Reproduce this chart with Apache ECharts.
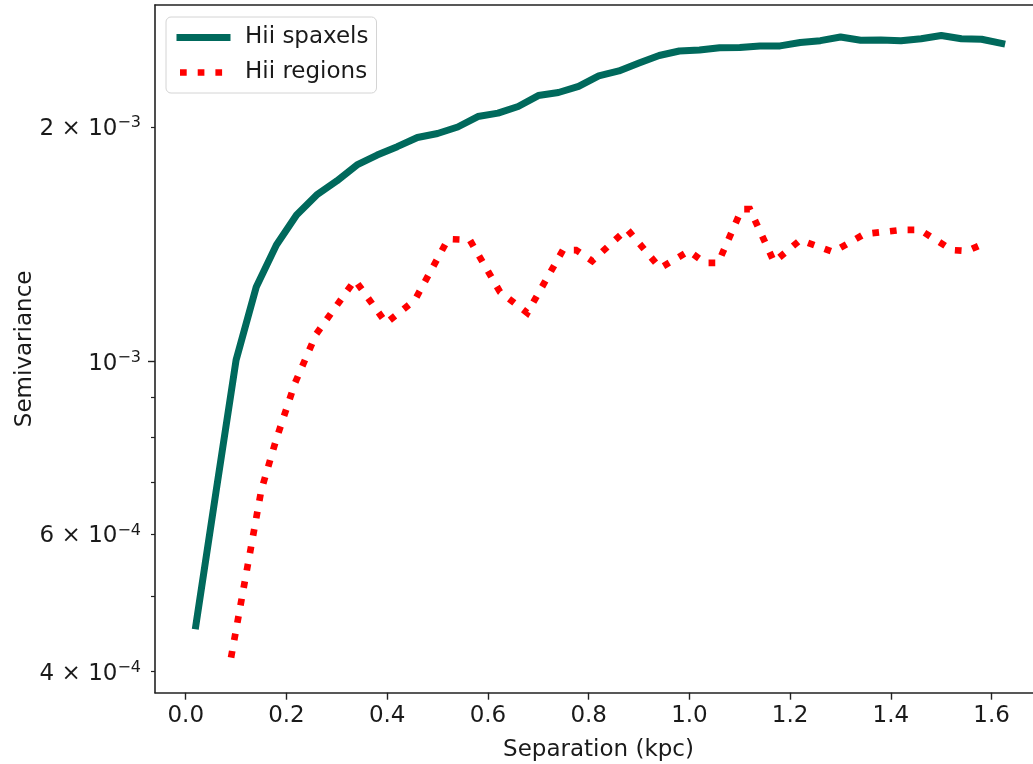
<!DOCTYPE html>
<html><head><meta charset="utf-8">
<script src="https://cdn.jsdelivr.net/npm/echarts@6/dist/echarts.min.js"></script>
<style>html,body{margin:0;padding:0;background:#fff}#c{width:1033px;height:764px}</style>
</head><body><div id="c"></div>
<script>
// ---- data ----
const spaxelSep = [0.02,0.06,0.10,0.14,0.18,0.22,0.26,0.30,0.34,0.38,0.42,0.46,0.50,0.54,0.58,0.62,0.66,0.70,0.74,0.78,0.82,0.86,0.90,0.94,0.98,1.02,1.06,1.10,1.14,1.18,1.22,1.26,1.30,1.34,1.38,1.42,1.46,1.50,1.54,1.58,1.62];
const spaxelGamma = [4.58e-4,6.8e-4,1.005e-3,1.247e-3,1.412e-3,1.543e-3,1.637e-3,1.706e-3,1.789e-3,1.842e-3,1.888e-3,1.940e-3,1.963e-3,2.001e-3,2.064e-3,2.085e-3,2.126e-3,2.196e-3,2.216e-3,2.256e-3,2.327e-3,2.362e-3,2.418e-3,2.472e-3,2.505e-3,2.512e-3,2.530e-3,2.531e-3,2.543e-3,2.543e-3,2.569e-3,2.583e-3,2.611e-3,2.586e-3,2.588e-3,2.583e-3,2.598e-3,2.623e-3,2.598e-3,2.594e-3,2.562e-3];
const regionSep = [0.09,0.15,0.18,0.217,0.259,0.336,0.398,0.455,0.521,0.564,0.624,0.678,0.749,0.775,0.807,0.876,0.942,0.999,1.031,1.057,1.104,1.120,1.168,1.220,1.285,1.347,1.420,1.458,1.521,1.551,1.587];
const regionGamma = [4.17e-4,6.84e-4,7.96e-4,9.39e-4,1.085e-3,1.273e-3,1.121e-3,1.200e-3,1.437e-3,1.433e-3,1.229e-3,1.155e-3,1.391e-3,1.391e-3,1.347e-3,1.480e-3,1.319e-3,1.387e-3,1.339e-3,1.339e-3,1.570e-3,1.570e-3,1.343e-3,1.433e-3,1.383e-3,1.458e-3,1.476e-3,1.476e-3,1.391e-3,1.387e-3,1.420e-3];
const seriesNames = ['Hii spaxels', 'Hii regions'];
const xTicks = [0.0,0.2,0.4,0.6,0.8,1.0,1.2,1.4,1.6];
const yLabelTicks = [4e-4, 6e-4, 1e-3, 2e-3];
const yMajorTicks = [1e-3];
const yMinorTicks = [4e-4, 5e-4, 6e-4, 7e-4, 8e-4, 9e-4, 2e-3];
const xName = 'Separation (kpc)';
const yName = 'Semivariance';

// ---- chart ----
const FONT = 'DejaVu Sans';
const FS = 23;
const INK = '#1a1a1a';
const SPINE = '#222';
const GREEN = '#00695c', RED = '#ff0000';
const XMIN = -0.061, XMAX = 1.70, YMIN = 3.759e-4, YMAX = 2.870e-3;
const greenStyle = {color: GREEN, width: 7, type: 'solid', cap: 'square', join: 'round'};
const redStyle = {color: RED, width: 6.7, type: [6.7, 11], cap: 'butt', join: 'miter'};

function yFmt(v) {
  const e = Math.floor(Math.log10(v) + 1e-9);
  const m = Math.round(v / Math.pow(10, e));
  const sup = '{s|\u2212' + (-e) + '}';
  return (m === 1 ? '{b|10}' : '{b|' + m + ' \u00d7 10}') + sup;
}

const chart = echarts.init(document.getElementById('c'), null, {renderer: 'canvas'});
chart.setOption({
  animation: false,
  backgroundColor: '#fff',
  textStyle: {fontFamily: FONT},
  grid: {left: 155, top: 5, right: -9, bottom: 71.3, containLabel: false, outerBoundsMode: 'none'},
  legend: {
    orient: 'vertical', left: 166, top: 17,
    padding: [7, 8, 7, 10.5],
    itemWidth: 47, itemHeight: 14, itemGap: 8,
    backgroundColor: 'rgba(255,255,255,0.8)',
    borderColor: '#d4d4d4', borderWidth: 1, borderRadius: 5,
    itemStyle: {opacity: 0},
    textStyle: {fontFamily: FONT, fontSize: FS, color: INK, padding: [0, 0, 0, 13], lineHeight: 27},
    data: [
      {name: seriesNames[0], lineStyle: greenStyle, itemStyle: {opacity: 0}},
      {name: seriesNames[1], lineStyle: redStyle, itemStyle: {opacity: 0}}
    ]
  },
  xAxis: [{
    type: 'value', min: XMIN, max: XMAX,
    name: xName, nameLocation: 'middle', nameGap: 46, nameMoveOverlap: false,
    nameTextStyle: {fontFamily: FONT, fontSize: FS, color: INK},
    axisLine: {show: true, onZero: false, lineStyle: {color: SPINE, width: 1.6}},
    axisTick: {show: true, length: 7, customValues: xTicks, lineStyle: {color: SPINE, width: 1.4}},
    axisLabel: {show: true, customValues: xTicks, margin: 12, fontFamily: FONT, fontSize: FS, color: INK,
      formatter: v => v.toFixed(1)},
    splitLine: {show: false}
  }, {
    type: 'value', position: 'top', min: XMIN, max: XMAX,
    axisLine: {show: true, onZero: false, lineStyle: {color: SPINE, width: 1.6}},
    axisTick: {show: false}, axisLabel: {show: false}, splitLine: {show: false}
  }],
  yAxis: [{
    type: 'log', logBase: 10, min: YMIN, max: YMAX, position: 'left',
    name: yName, nameLocation: 'middle', nameGap: 118, nameRotate: 90, nameMoveOverlap: false,
    nameTextStyle: {fontFamily: FONT, fontSize: FS, color: INK},
    axisLine: {show: true, onZero: false, lineStyle: {color: SPINE, width: 1.6}},
    axisTick: {show: true, length: 7, customValues: yMajorTicks, lineStyle: {color: SPINE, width: 1.4}},
    axisLabel: {show: true, customValues: yLabelTicks, margin: 14, color: INK, padding: [4, 0, 0, 0],
      formatter: yFmt,
      rich: {
        b: {fontFamily: FONT, fontSize: FS, color: INK, lineHeight: 28},
        s: {fontFamily: FONT, fontSize: 16, color: INK, lineHeight: 16, verticalAlign: 'top'}
      }},
    splitLine: {show: false}, minorTick: {show: false}
  }, {
    type: 'log', logBase: 10, min: YMIN, max: YMAX, position: 'left',
    axisLine: {show: false, onZero: false},
    axisTick: {show: true, length: 4, customValues: yMinorTicks, lineStyle: {color: SPINE, width: 1.2}},
    axisLabel: {show: false}, splitLine: {show: false}
  }],
  series: [{
    name: seriesNames[0], type: 'line', xAxisIndex: 0, yAxisIndex: 0,
    data: spaxelSep.map((x, i) => [x, spaxelGamma[i]]),
    symbol: 'none', showSymbol: false,
    lineStyle: greenStyle,
    itemStyle: {color: GREEN}
  }, {
    name: seriesNames[1], type: 'line', xAxisIndex: 0, yAxisIndex: 0,
    data: regionSep.map((x, i) => [x, regionGamma[i]]),
    symbol: 'none', showSymbol: false,
    lineStyle: redStyle,
    itemStyle: {color: RED}
  }]
});
</script></body></html>
